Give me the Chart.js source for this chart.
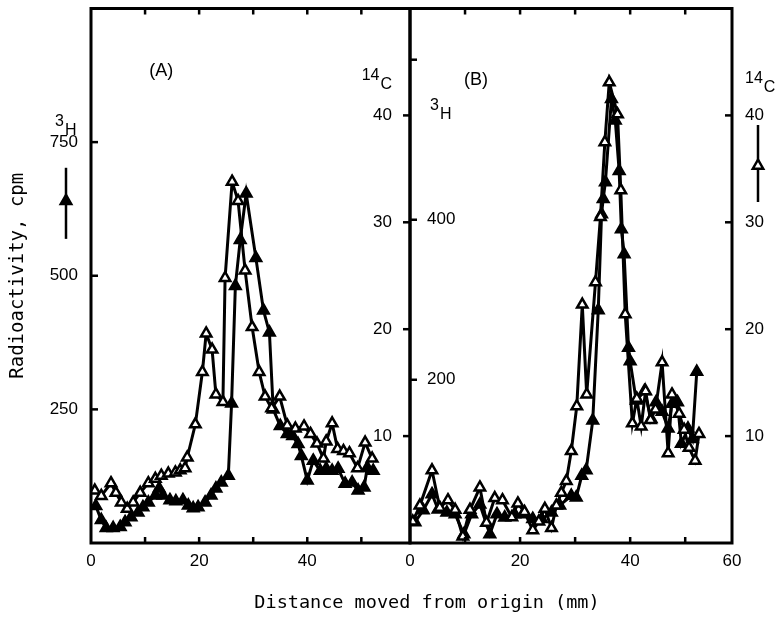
<!DOCTYPE html>
<html>
<head>
<meta charset="utf-8">
<script src="https://cdn.jsdelivr.net/npm/chart.js@4.4.1/dist/chart.umd.min.js"></script>
<style>
html, body { margin: 0; padding: 0; background: #fff; }
#wrap { position: relative; width: 777px; height: 621px; }
#wrap canvas { position: absolute; left: 0; top: 0; }
</style>
</head>
<body>
<div id="wrap">
<canvas id="panelA" width="777" height="621"></canvas>
<canvas id="panelB" width="777" height="621"></canvas>
</div>
<script>
// (A) 14C, open triangles
var distA_open = [0.7, 1.9, 3.7, 4.6, 5.6, 6.7, 7.8, 9.1, 10.6, 11.9, 13.0, 14.3, 15.6, 16.5, 17.4, 17.8, 19.3, 20.6, 21.3, 22.4, 23.1, 24.4, 24.8, 26.1, 27.2, 28.5, 29.8, 31.1, 32.2, 33.4, 34.9, 36.3, 37.8, 39.4, 40.6, 41.8, 43.0, 43.5, 44.6, 45.6, 46.7, 47.8, 49.3, 50.7, 52.0];
var c14A = [4.9, 4.4, 5.6, 4.7, 3.8, 3.2, 3.8, 4.7, 5.6, 6.0, 6.3, 6.5, 6.6, 6.8, 7.0, 8.0, 11.1, 16.0, 19.6, 18.1, 13.9, 13.2, 24.8, 33.8, 32.0, 25.5, 20.2, 16.0, 13.7, 12.6, 13.7, 11.0, 10.7, 10.9, 10.2, 9.3, 7.9, 9.5, 11.2, 8.8, 8.6, 8.4, 7.0, 9.4, 7.9];
// (A) 3H, filled triangles
var distA_fill = [0.9, 1.9, 2.8, 4.1, 5.4, 6.3, 7.4, 8.7, 9.6, 10.6, 11.9, 12.6, 13.3, 14.6, 15.7, 17.0, 18.0, 18.9, 19.8, 21.1, 22.2, 23.1, 24.1, 25.4, 26.0, 26.7, 27.6, 28.7, 30.5, 31.9, 33.0, 33.7, 35.0, 36.3, 37.3, 38.3, 38.9, 40.0, 41.1, 42.4, 43.5, 44.6, 45.7, 47.0, 48.3, 49.4, 50.5, 51.1, 52.2];
var h3A = [69, 43, 28, 28, 30, 39, 48, 57, 67, 76, 89, 102, 89, 80, 78, 80, 70, 65, 67, 76, 89, 102, 113, 126, 261, 481, 567, 654, 533, 435, 394, 250, 219, 204, 200, 185, 163, 117, 154, 135, 139, 135, 139, 111, 113, 98, 104, 141, 135];

// (B) 14C, open triangles
var distB_open = [0.5, 1.8, 4.0, 5.4, 6.9, 8.2, 9.6, 10.9, 12.7, 13.9, 15.4, 16.8, 18.5, 19.6, 20.8, 22.3, 23.4, 24.5, 25.7, 26.6, 27.5, 28.4, 29.3, 30.3, 31.3, 32.1, 33.7, 34.6, 35.4, 36.2, 37.7, 38.3, 39.1, 40.4, 41.2, 42.0, 42.8, 43.7, 44.6, 45.8, 46.9, 47.6, 48.9, 49.8, 50.7, 51.8, 52.5];
var c14B = [2.0, 3.5, 6.8, 3.3, 4.0, 3.1, 0.6, 3.1, 5.2, 1.9, 4.2, 4.0, 2.4, 3.7, 2.9, 1.2, 2.0, 3.2, 1.4, 3.5, 4.7, 5.8, 8.6, 12.8, 22.3, 13.9, 24.4, 30.5, 37.5, 43.1, 40.1, 33.0, 21.4, 11.2, 13.5, 10.9, 14.2, 11.5, 12.5, 16.9, 8.4, 13.9, 12.1, 10.6, 8.9, 7.7, 10.2];
// (B) 3H, filled triangles
var distB_fill = [0.9, 2.4, 4.0, 5.1, 6.7, 8.2, 9.8, 11.2, 12.7, 14.5, 15.8, 17.2, 19.0, 20.5, 22.3, 23.9, 25.7, 27.2, 29.3, 30.2, 31.2, 32.0, 33.2, 34.2, 34.8, 35.1, 35.5, 36.6, 37.3, 38.0, 38.4, 38.9, 39.7, 40.0, 41.1, 42.6, 43.8, 44.7, 45.8, 46.9, 47.6, 48.6, 49.3, 50.5, 51.3, 52.1];
var h3B = [22, 37, 57, 38, 34, 32, 7, 32, 44, 7, 32, 28, 32, 32, 26, 26, 34, 43, 55, 53, 80, 87, 149, 287, 407, 426, 447, 551, 524, 461, 388, 357, 240, 223, 174, 186, 151, 172, 160, 139, 170, 172, 120, 139, 126, 210];

// axis ticks
var xTickValuesA = [0, 20, 40];
var xTickLabelsA = ['0', '20', '40'];
var xTickValuesB = [0, 20, 40, 58.5];
var xTickLabelsB = ['0', '20', '40', '60'];
var xMarks = [10, 20, 30, 40, 50];
var hTicksA = [250, 500, 750];
var hTicksB = [200, 400];
var hMarksB = [200, 400, 600];
var cTicks = [10, 20, 30, 40];

var NARROW = "'Liberation Sans Narrow', 'Liberation Sans', sans-serif";
var MONO = "'DejaVu Sans Mono', monospace";

Chart.defaults.color = '#000';
Chart.defaults.font.family = NARROW;
Chart.defaults.font.size = 17;

function pts(xs, ys) {
    return xs.map(function (x, i) { return { x: x, y: ys[i] }; });
}

function series(xs, ys, axis, filled) {
    return {
        data: pts(xs, ys),
        yAxisID: axis,
        borderColor: '#000',
        borderWidth: 3,
        backgroundColor: filled ? '#000' : '#fff',
        pointStyle: 'triangle',
        pointRadius: 6,
        pointHoverRadius: 6,
        pointBorderWidth: 2.5,
        pointBackgroundColor: filled ? '#000' : '#fff',
        pointBorderColor: '#000',
        tension: 0,
        fill: false
    };
}

function fixedTicks(values) {
    return function (s) {
        s.ticks = values.map(function (v) { return { value: v }; });
    };
}

function labelsFrom(list) {
    return function (v, i) { return list[i]; };
}

// force an exact box size and drop the label overhang padding
function boxSize(w, h) {
    return function (s) {
        if (w !== null) s.width = w;
        if (h !== null) s.height = h;
        s.paddingTop = 0; s.paddingBottom = 0;
        s.paddingLeft = 0; s.paddingRight = 0;
    };
}

var noGrid = { display: false, drawTicks: false };

function drawFrame(ctx, a) {
    ctx.strokeStyle = '#000';
    ctx.lineWidth = 3;
    ctx.strokeRect(a.left, a.top, a.right - a.left, a.bottom - a.top);
}

function marksX(ctx, a, scale, values) {
    ctx.lineWidth = 2.5;
    values.forEach(function (v) {
        var p = scale.getPixelForValue(v);
        ctx.beginPath();
        ctx.moveTo(p, a.bottom); ctx.lineTo(p, a.bottom - 6);
        ctx.moveTo(p, a.top); ctx.lineTo(p, a.top + 6);
        ctx.stroke();
    });
}

function marksY(ctx, x, dir, scale, values) {
    ctx.lineWidth = 2.5;
    values.forEach(function (v) {
        var p = scale.getPixelForValue(v);
        ctx.beginPath();
        ctx.moveTo(x, p); ctx.lineTo(x + dir * 7, p);
        ctx.stroke();
    });
}

function iso(ctx, mass, sym, x, y, alignRight) {
    ctx.textBaseline = 'middle';
    ctx.textAlign = 'left';
    var w1 = ctx.measureText(mass).width;
    var w2 = ctx.measureText(sym).width;
    if (alignRight) x = x - w1 - w2 - 1;
    ctx.fillText(mass, x, y);
    ctx.fillText(sym, x + w1 + 1, y + 9);
}

function arrow(ctx, x, y1, y2, yTri, filled) {
    ctx.lineWidth = 2.5;
    ctx.strokeStyle = '#000';
    ctx.beginPath();
    ctx.moveTo(x, y1); ctx.lineTo(x, y2);
    ctx.stroke();
    ctx.fillStyle = filled ? '#000' : '#fff';
    Chart.helpers.drawPoint(ctx, { pointStyle: 'triangle', radius: 6, rotation: 0, borderWidth: 2.5 }, x, yTri);
    ctx.fillStyle = '#000';
}

var decorA = {
    id: 'decorA',
    afterDraw: function (chart) {
        var ctx = chart.ctx, a = chart.chartArea;
        var sx = chart.scales.x, sh = chart.scales.yH, sc = chart.scales.yC;
        ctx.save();
        drawFrame(ctx, a);
        marksX(ctx, a, sx, xMarks);
        marksY(ctx, a.left, 1, sh, hTicksA);
        marksY(ctx, a.right, -1, sc, cTicks);
        ctx.fillStyle = '#000';
        ctx.font = '18px ' + NARROW;
        ctx.textAlign = 'center';
        ctx.textBaseline = 'middle';
        ctx.fillText('(A)', sx.getPixelForValue(13), sh.getPixelForValue(883));
        ctx.font = '16px ' + NARROW;
        iso(ctx, '3', 'H', 55, sh.getPixelForValue(750) - 21, false);
        iso(ctx, '14', 'C', a.right - 18, sc.getPixelForValue(40) - 40, true);
        arrow(ctx, 66, sh.getPixelForValue(702), sh.getPixelForValue(569), sh.getPixelForValue(640), true);
        ctx.font = '18.5px ' + MONO;
        ctx.textAlign = 'center';
        ctx.textBaseline = 'middle';
        ctx.fillText('Distance moved from origin (mm)', 427, 603);
        ctx.restore();
    }
};

var decorB = {
    id: 'decorB',
    afterDraw: function (chart) {
        var ctx = chart.ctx, a = chart.chartArea;
        var sx = chart.scales.x, sh = chart.scales.yH, sc = chart.scales.yC;
        ctx.save();
        drawFrame(ctx, a);
        marksX(ctx, a, sx, xMarks);
        marksY(ctx, a.left, 1, sh, hMarksB);
        marksY(ctx, a.right, -1, sc, cTicks);
        ctx.fillStyle = '#000';
        ctx.font = '18px ' + NARROW;
        ctx.textAlign = 'center';
        ctx.textBaseline = 'middle';
        ctx.fillText('(B)', sx.getPixelForValue(12), sh.getPixelForValue(575));
        ctx.font = '16px ' + NARROW;
        iso(ctx, '3', 'H', a.left + 20, sc.getPixelForValue(40) - 10, false);
        iso(ctx, '14', 'C', a.right + 13, sc.getPixelForValue(40) - 37, false);
        arrow(ctx, a.right + 26, sc.getPixelForValue(39.1), sc.getPixelForValue(31.9), sc.getPixelForValue(35.3), false);
        ctx.restore();
    }
};

var chartA = new Chart(document.getElementById('panelA'), {
    type: 'line',
    data: {
        datasets: [
            series(distA_open, c14A, 'yC', false),
            series(distA_fill, h3A, 'yH', true)
        ]
    },
    options: {
        responsive: false,
        animation: false,
        devicePixelRatio: 1,
        layout: { padding: { left: 0, right: 367, top: 5, bottom: 0 } },
        plugins: { legend: { display: false }, tooltip: { enabled: false } },
        scales: {
            x: {
                type: 'linear', min: 0, max: 59,
                grid: noGrid, border: { display: false },
                afterBuildTicks: fixedTicks(xTickValuesA),
                afterFit: boxSize(null, 78),
                ticks: { padding: 8, maxRotation: 0, autoSkip: false, callback: labelsFrom(xTickLabelsA) }
            },
            yH: {
                position: 'left', min: 0, max: 1000,
                grid: noGrid, border: { display: false },
                afterBuildTicks: fixedTicks(hTicksA),
                afterFit: boxSize(91, null),
                ticks: { padding: 13, autoSkip: false },
                title: {
                    display: true, text: 'Radioactivity, cpm',
                    font: { family: MONO, size: 19 }, padding: { top: 7, bottom: 0 }
                }
            },
            yC: {
                position: 'right', min: 0, max: 50,
                grid: noGrid, border: { display: false },
                afterBuildTicks: fixedTicks(cTicks),
                afterFit: boxSize(0, null),
                ticks: { mirror: true, padding: -18, autoSkip: false }
            }
        }
    },
    plugins: [decorA]
});

var chartB = new Chart(document.getElementById('panelB'), {
    type: 'line',
    data: {
        datasets: [
            series(distB_open, c14B, 'yC', false),
            series(distB_fill, h3B, 'yH', true)
        ]
    },
    options: {
        responsive: false,
        animation: false,
        devicePixelRatio: 1,
        layout: { padding: { left: 410, right: 0, top: 5, bottom: 0 } },
        plugins: { legend: { display: false }, tooltip: { enabled: false } },
        scales: {
            x: {
                type: 'linear', min: 0, max: 58.5,
                grid: noGrid, border: { display: false },
                afterBuildTicks: fixedTicks(xTickValuesB),
                afterFit: boxSize(null, 78),
                ticks: { padding: 8, maxRotation: 0, autoSkip: false, callback: labelsFrom(xTickLabelsB) }
            },
            yH: {
                position: 'left', min: -4, max: 664,
                grid: noGrid, border: { display: false },
                afterBuildTicks: fixedTicks(hTicksB),
                afterFit: boxSize(0, null),
                ticks: { mirror: true, padding: 17, autoSkip: false }
            },
            yC: {
                position: 'right', min: 0, max: 50,
                grid: noGrid, border: { display: false },
                afterBuildTicks: fixedTicks(cTicks),
                afterFit: boxSize(45, null),
                ticks: { padding: 13, autoSkip: false }
            }
        }
    },
    plugins: [decorB]
});
</script>
</body>
</html>
